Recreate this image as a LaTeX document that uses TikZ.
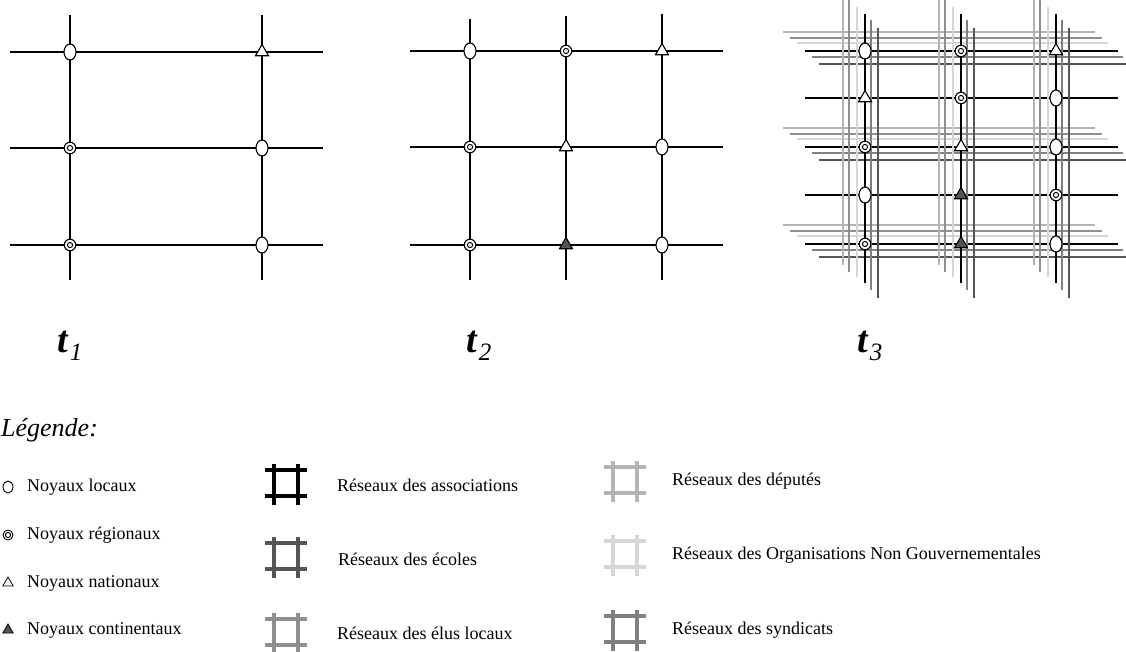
\documentclass[tikz,border=0pt]{standalone}
\usepackage{fontspec}
\setmainfont{Liberation Serif}
\usetikzlibrary{shapes.geometric}
\definecolor{deputes}{HTML}{B3B3B3}
\definecolor{elus}{HTML}{8F8F8F}
\definecolor{ong}{HTML}{D6D6D6}
\definecolor{syndicats}{HTML}{808080}
\definecolor{ecoles}{HTML}{555555}
\tikzset{
  hash/.pic={\draw[line width=3.2pt] (-12,-20)--(-12,21) (12,-20)--(12,21) (-21,-14)--(21,-14) (-21,12)--(21,12);}
}

\begin{document}
\begin{tikzpicture}[x=1pt,y=-1pt,every node/.style={inner sep=0pt},
  grid/.style={line width=2pt},
  strand/.style={line width=2pt},
  local/.style={ellipse,draw,fill=white,line width=1.1pt,minimum width=12pt,minimum height=16pt},
  regional/.style={circle,draw,fill=white,line width=1.1pt,minimum size=11.5pt,
    path picture={\draw[line width=1pt] (path picture bounding box.center) circle (2.6pt);}},
  national/.style={regular polygon,regular polygon sides=3,draw,fill=white,line width=1.1pt,minimum size=15pt},
  continental/.style={national,fill=ecoles},
  legtext/.style={anchor=west,font=\fontsize{18}{20}\selectfont},
  tlabel/.style={anchor=base west,font=\fontsize{38}{38}\selectfont\bfseries\itshape}]
\useasboundingbox (0,0) rectangle (1126,651);

% t1
\foreach \y in {52,148,245} \draw[grid] (10,\y) -- (323,\y);
\foreach \x in {70,262} \draw[grid] (\x,15) -- (\x,280);
\foreach \n/\x/\y/\s in {a11/70/52/local, a12/262/52/national,
    a21/70/148/regional, a22/262/148/local,
    a31/70/245/regional, a32/262/245/local}
  \node[\s] (\n) at (\x,\y) {};

% t2
\foreach \y in {51,147,245} \draw[grid] (410,\y) -- (723,\y);
\foreach \x/\top in {470/19,566/16,662/14} \draw[grid] (\x,\top) -- (\x,280);
\foreach \n/\x/\y/\s in {b11/470/51/local, b12/566/51/regional, b13/662/51/national,
    b21/470/147/regional, b22/566/147/national, b23/662/147/local,
    b31/470/245/regional, b32/566/245/continental, b33/662/245/local}
  \node[\s] (\n) at (\x,\y) {};

% t3: bundles of networks
\foreach \y in {51,147,244}
  \foreach \dy/\xa/\xb/\c in {-19/783/1095/deputes, -13/790/1102/elus, -8/797/1108/ong,
      6/812/1123/syndicats, 13/819/1126/ecoles}
    \draw[strand,\c] (\xa,\y+\dy) -- (\xb,\y+\dy);
\foreach \y in {51,98,147,195,244} \draw[grid] (805,\y) -- (1118,\y);
\foreach \x in {865,961,1056}
  \foreach \dx/\ya/\yb/\c in {-22/0/265/deputes, -16/0/272/elus, -8/7/277/ong,
      6/20/290/syndicats, 13/28/298/ecoles}
    \draw[strand,\c] (\x+\dx,\ya) -- (\x+\dx,\yb);
\foreach \x in {865,961,1056} \draw[grid] (\x,14) -- (\x,283);
\foreach \n/\x/\y/\s in {c11/865/51/local, c12/961/51/regional, c13/1056/51/national,
    c21/865/98/national, c22/961/98/regional, c23/1056/98/local,
    c31/865/147/regional, c32/961/147/national, c33/1056/147/local,
    c41/865/195/local, c42/961/195/continental, c43/1056/195/regional,
    c51/865/244/regional, c52/961/244/continental, c53/1056/244/local}
  \node[\s] (\n) at (\x,\y) {};

% time labels
\node[tlabel] (t1) at (57,352) {t\kern2pt\raisebox{-8pt}{\fontsize{25}{25}\selectfont\mdseries 1}};
\node[tlabel] (t2) at (466,352) {t\kern2pt\raisebox{-8pt}{\fontsize{25}{25}\selectfont\mdseries 2}};
\node[tlabel] (t3) at (857,352) {t\kern2pt\raisebox{-8pt}{\fontsize{25}{25}\selectfont\mdseries 3}};

% legend
\node[anchor=west,font=\fontsize{26}{28}\selectfont\itshape] (leg) at (1,430) {Légende:};
\node[local,minimum width=10pt,minimum height=12pt,line width=0.9pt] (s1) at (8,487) {};
\node[regional,minimum size=10pt,line width=0.9pt] (s2) at (8,535) {};
\node[national,minimum size=12pt,line width=0.8pt] (s3) at (8,583) {};
\node[continental,minimum size=12pt,line width=0.8pt] (s4) at (8,630) {};
\node[legtext] (l1) at (27,487) {Noyaux locaux};
\node[legtext] (l2) at (27,535) {Noyaux régionaux};
\node[legtext] (l3) at (27,583) {Noyaux nationaux};
\node[legtext] (l4) at (27,630) {Noyaux continentaux};

\pic[color=black] (h1) at (286,484) {hash};
\pic[color=ecoles] (h2) at (286,557) {hash};
\pic[color=elus] (h3) at (286,633) {hash};
\pic[color=deputes] (h4) at (625,481) {hash};
\pic[color=ong] (h5) at (625,555) {hash};
\pic[color=syndicats] (h6) at (625,630) {hash};
\node[legtext] (r1) at (337,485) {Réseaux des associations};
\node[legtext] (r2) at (338,559) {Réseaux des écoles};
\node[legtext] (r3) at (337,633) {Réseaux des élus locaux};
\node[legtext] (r4) at (672,481) {Réseaux des députés};
\node[legtext] (r5) at (672,555) {Réseaux des Organisations Non Gouvernementales};
\node[legtext] (r6) at (672,630) {Réseaux des syndicats};
\end{tikzpicture}
\end{document}
